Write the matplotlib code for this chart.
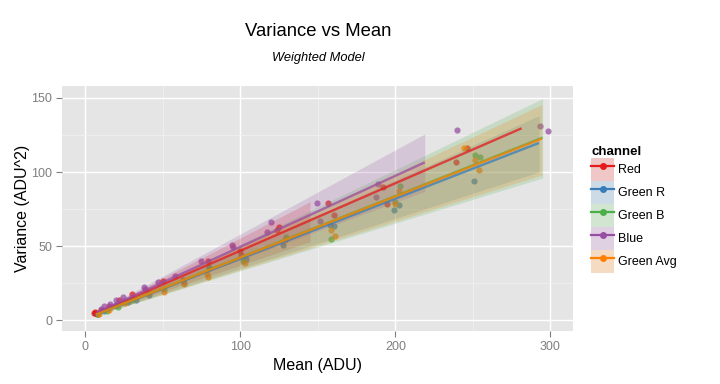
import matplotlib
matplotlib.use("Agg")
import matplotlib.pyplot as plt
from matplotlib.lines import Line2D
from matplotlib.patches import Patch
import matplotlib.colors as mcolors
import numpy as np

plt.rcParams['font.family'] = ['Liberation Sans', 'DejaVu Sans']

channels = ["Red", "Green R", "Green B", "Blue", "Green Avg"]
colors = ["#E41A1C", "#377EB8", "#4DAF4A", "#984EA3", "#FF7F00"]

# measured points (mean, variance) per channel
red_mean = [5.8, 6.2, 6.6, 7.0, 7.3, 10, 15, 22, 30, 50.3, 63.2, 79.1, 99.8, 100.7, 123.9, 125.1,
            156.8, 160.4, 191.8, 194.8, 239, 246]
red_var = [5.0, 4.6, 5.4, 4.8, 4.2, 7, 9.8, 13.5, 17.8, 26.6, 27.2, 40.3, 47, 44, 61.2, 63.2,
           79, 71, 90.1, 78.6, 106.8, 116.2]

greenr_mean = [8, 12, 20, 27.5, 32.7, 40.9, 64, 80, 103.7, 127.8, 157.8, 160.7, 199.4, 202.6, 251]
greenr_var = [4.3, 6, 10.5, 12.6, 13.8, 17.4, 25, 35, 41.3, 50.6, 64.6, 63.9, 74.3, 78, 93.9]

greenb_mean = [8, 14, 21.3, 30, 51, 79.5, 101.8, 129.3, 158.7, 200, 203, 251.6, 254.7]
greenb_var = [4, 6.5, 8.8, 14, 20.8, 36, 40, 56.5, 54.8, 79.5, 90.5, 111.7, 110]

blue_mean = [10.3, 12.3, 16, 19.8, 24.5, 37.7, 38.5, 47.1, 57.9, 74.8, 94.6, 95.2, 117.4, 120,
             149.5, 151.6, 187.8, 189, 240, 293.5, 298.7]
blue_var = [7.7, 9.5, 11.3, 13.8, 15.5, 22.3, 21.2, 25.7, 30.2, 40.1, 50.7, 49.3, 59.6, 66.4,
            79, 67, 83.1, 92.1, 128.4, 131, 127.7]

gavg_mean = [9, 15, 25.8, 40.2, 50.5, 63.7, 78.7, 78.9, 103.2, 128.8, 158.7, 161.3, 199.6, 202.6,
             244, 251.6, 254.2]
gavg_var = [4.5, 7, 11.5, 18.7, 19.2, 24.3, 31.5, 29.5, 38.5, 54.4, 61, 57.1, 78.6, 87,
            116.2, 108, 101.5]

point_means = [red_mean, greenr_mean, greenb_mean, blue_mean, gavg_mean]
point_vars = [red_var, greenr_var, greenb_var, blue_var, gavg_var]

# fitted lines: start/end mean and variance
fit_x0 = [7, 7, 7, 7, 7]
fit_x1 = [281.5, 292.7, 295, 219, 294.5]
fit_y0 = [4.6, 3.8, 3.9, 5.0, 3.9]
fit_y1 = [129.5, 119.6, 123.2, 106.5, 122.5]

# confidence bands: end of band and its lower/upper variance there
band_x1 = [145, 292.7, 295, 219, 294.5]
band_lo0 = [4.2, 3.5, 3.5, 4.6, 3.5]
band_hi0 = [5.0, 4.1, 4.3, 5.4, 4.3]
band_lo1 = [53, 100, 96, 87, 98]
band_hi1 = [80, 138, 149.5, 125.7, 145.5]

fig = plt.figure(figsize=(7.2, 3.84), dpi=100)
ax = fig.add_axes([62 / 720, 1 - 331 / 384, 511 / 720, 245 / 384])
ax.set_facecolor("#E5E5E5")

# points
for mx, vy, c in zip(point_means, point_vars, colors):
    ax.scatter(mx, vy, s=20, color=c, alpha=0.75, linewidths=0, zorder=2)

# bands
for i, c in enumerate(colors):
    bx = [fit_x0[i], band_x1[i]]
    ax.fill_between(bx, [band_lo0[i], band_lo1[i]], [band_hi0[i], band_hi1[i]],
                    color=c, alpha=0.2, linewidth=0, zorder=3)

# fitted lines
for i, c in enumerate(colors):
    ax.plot([fit_x0[i], fit_x1[i]], [fit_y0[i], fit_y1[i]], color=c, alpha=0.75,
            linewidth=1.7, solid_capstyle='butt', zorder=4)

ax.set_xlim(-15, 314.6)
ax.set_ylim(-7.2, 158)
ax.set_xticks([0, 100, 200, 300])
ax.set_yticks([0, 50, 100, 150])
ax.set_xticks([50, 150, 250], minor=True)
ax.set_yticks([25, 75, 125], minor=True)
ax.grid(True, which='major', color='white', linewidth=1.0, zorder=0)
ax.grid(True, which='minor', color='#F2F2F2', linewidth=0.5, zorder=0)
ax.set_axisbelow(True)
for s in ax.spines.values():
    s.set_visible(False)
ax.tick_params(which='major', length=4, color='#7F7F7F', labelcolor='#7F7F7F', labelsize=9, pad=3)
ax.tick_params(which='minor', length=0)

ax.set_xlabel("Mean (ADU)", fontsize=11.5, labelpad=4)
ax.set_ylabel("Variance (ADU^2)", fontsize=11.5, labelpad=1)

fig.text(318 / 720, 1 - 32 / 384, "Variance vs Mean", fontsize=13.3, ha='center', va='center')
fig.text(318 / 720, 1 - 58 / 384, "Weighted Model", fontsize=9.3, style='italic', ha='center', va='center')

# legend with blended key backgrounds
key_bg = np.array(mcolors.to_rgb("#F2F2F2"))
handles = []
for c in colors:
    rgb = np.array(mcolors.to_rgb(c))
    fill = 0.2 * rgb + 0.8 * key_bg
    handles.append((Patch(facecolor=fill, edgecolor='none'),
                    Line2D([], [], color=c, linewidth=1.6, marker='o', markersize=4)))
leg = fig.legend(handles, channels, title="channel", loc='upper left',
                 bbox_to_anchor=(591 / 720, 1 - 146 / 384), frameon=False,
                 fontsize=9, title_fontsize=9.5, handlelength=1.85, handleheight=2.45,
                 handletextpad=0.3, labelspacing=0.0, borderaxespad=0, borderpad=0)
leg.get_title().set_fontweight('bold')
leg._legend_box.align = "left"

fig.savefig("out.png", dpi=100)
